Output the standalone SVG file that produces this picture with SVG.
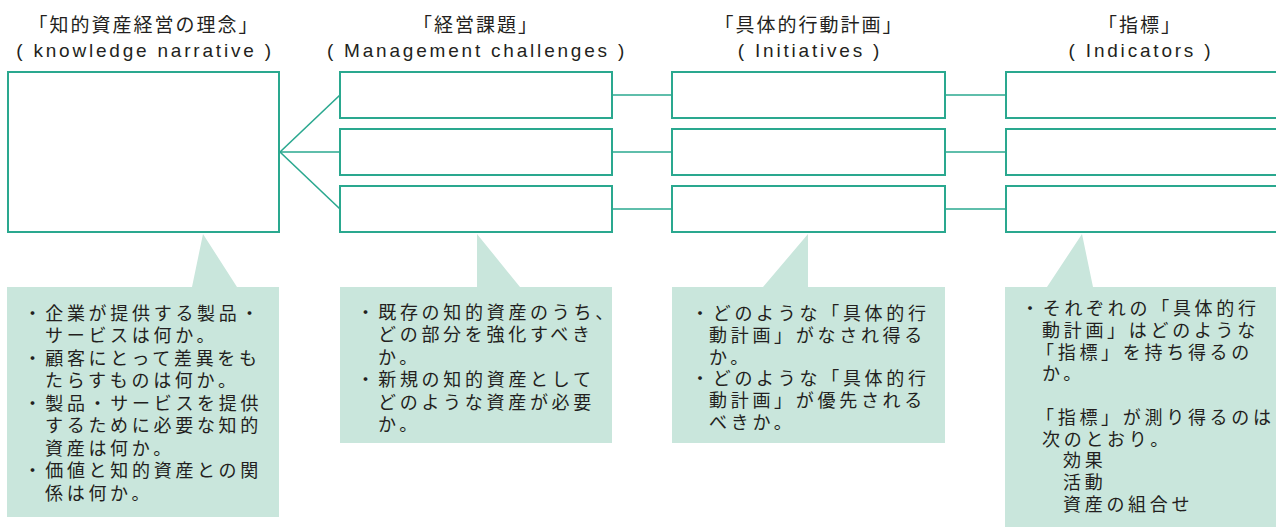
<svg xmlns="http://www.w3.org/2000/svg" width="1276" height="532" viewBox="0 0 1276 532">
<style>
.box{fill:#fff;stroke:#2aa88f;stroke-width:2}
.con{stroke:#2aa88f;stroke-width:1.6;fill:none}
.call{fill:#c9e6dc;stroke:none}
.hj{font-family:"Noto Sans CJK JP","Noto Sans",sans-serif;font-size:19px;fill:#231f20;letter-spacing:2px;text-anchor:middle}
.he{font-family:"Liberation Sans",Arial,sans-serif;font-size:19px;fill:#231f20;letter-spacing:2.8px;text-anchor:middle}
.ct{font-family:"Noto Sans CJK JP",sans-serif;font-size:18px;fill:#231f20;letter-spacing:3.7px}
</style>
<rect width="1276" height="532" fill="#fff"/>
<g id="headers">
<text class="hj" x="144" y="32">「知的資産経営の理念」</text>
<text class="he" x="145" y="57">( knowledge narrative )</text>
<text class="hj" x="476" y="32">「経営課題」</text>
<text class="he" x="477" y="57">( Management challenges )</text>
<text class="hj" x="809" y="32">「具体的行動計画」</text>
<text class="he" x="810" y="57">( Initiatives )</text>
<text class="hj" x="1140" y="32">「指標」</text>
<text class="he" x="1141" y="57">( Indicators )</text>
</g>
<g id="connectors">
<line class="con" x1="280" y1="152" x2="340" y2="95"/>
<line class="con" x1="280" y1="152" x2="340" y2="152"/>
<line class="con" x1="280" y1="152" x2="340" y2="209"/>
<line class="con" x1="612" y1="95" x2="672" y2="95"/>
<line class="con" x1="612" y1="152" x2="672" y2="152"/>
<line class="con" x1="612" y1="209" x2="672" y2="209"/>
<line class="con" x1="945" y1="95" x2="1006" y2="95"/>
<line class="con" x1="945" y1="152" x2="1006" y2="152"/>
<line class="con" x1="945" y1="209" x2="1006" y2="209"/>
</g>
<g id="narrative"><rect class="box" x="8" y="72" width="271" height="160"/></g>
<g id="challenge1"><rect class="box" x="340" y="72" width="272" height="46"/></g>
<g id="challenge2"><rect class="box" x="340" y="129" width="272" height="46"/></g>
<g id="challenge3"><rect class="box" x="340" y="186" width="272" height="46"/></g>
<g id="initiative1"><rect class="box" x="672" y="72" width="273" height="46"/></g>
<g id="initiative2"><rect class="box" x="672" y="129" width="273" height="46"/></g>
<g id="initiative3"><rect class="box" x="672" y="186" width="273" height="46"/></g>
<g id="indicator1"><rect class="box" x="1006" y="72" width="290" height="46"/></g>
<g id="indicator2"><rect class="box" x="1006" y="129" width="290" height="46"/></g>
<g id="indicator3"><rect class="box" x="1006" y="186" width="290" height="46"/></g>
<g id="callout1">
<path class="call" d="M7,287 H192 L203,234 L237,287 H279 V517 H7 Z"/>
<text class="ct"><tspan x="23.5" y="319.5">・企業が提供する製品・</tspan><tspan x="45" y="342">サービスは何か。</tspan><tspan x="23.5" y="364.5">・顧客にとって差異をも</tspan><tspan x="45" y="387">たらすものは何か。</tspan><tspan x="23.5" y="409.5">・製品・サービスを提供</tspan><tspan x="45" y="432">するために必要な知的</tspan><tspan x="45" y="454.5">資産は何か。</tspan><tspan x="23.5" y="477">・価値と知的資産との関</tspan><tspan x="45" y="499.5">係は何か。</tspan></text>
</g>
<g id="callout2">
<path class="call" d="M340,287 H477 V234 L520,287 H612 V443 H340 Z"/>
<text class="ct"><tspan x="356.5" y="318.5">・既存の知的資産のうち、</tspan><tspan x="378" y="341">どの部分を強化すべき</tspan><tspan x="378" y="363.5">か。</tspan><tspan x="356.5" y="386">・新規の知的資産として</tspan><tspan x="378" y="408.5">どのような資産が必要</tspan><tspan x="378" y="431">か。</tspan></text>
</g>
<g id="callout3">
<path class="call" d="M672,287 H763 L808,234 V287 H945 V443 H672 Z"/>
<text class="ct"><tspan x="691" y="320">・どのような「具体的行</tspan><tspan x="709" y="341.8">動計画」がなされ得る</tspan><tspan x="709" y="363.6">か。</tspan><tspan x="691" y="385.4">・どのような「具体的行</tspan><tspan x="709" y="407.2">動計画」が優先される</tspan><tspan x="709" y="429">べきか。</tspan></text>
</g>
<g id="callout4">
<path class="call" d="M1005,287 H1047 L1082,234 L1093,287 H1290 V527 H1005 Z"/>
<text class="ct"><tspan x="1021" y="315">・それぞれの「具体的行</tspan><tspan x="1042" y="336.8">動計画」はどのような</tspan><tspan x="1036" y="358.6">「指標」を持ち得るの</tspan><tspan x="1042" y="380.4">か。</tspan><tspan x="1036" y="423.8">「指標」が測り得るのは</tspan><tspan x="1042" y="445.6">次のとおり。</tspan><tspan x="1063" y="467.4">効果</tspan><tspan x="1063" y="489.2">活動</tspan><tspan x="1063" y="511">資産の組合せ</tspan></text>
</g>
</svg>
